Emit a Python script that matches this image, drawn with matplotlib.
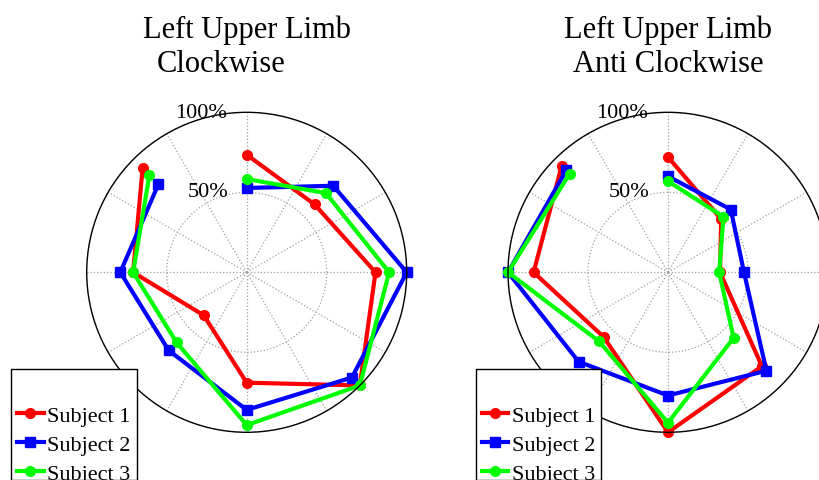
import numpy as np
import matplotlib
matplotlib.use("Agg")
from matplotlib import pyplot as plt
from matplotlib.patches import Rectangle

plt.rcParams['font.family'] = ['Liberation Serif', 'DejaVu Serif']

# directions (degrees), in the order they were measured
angles_deg = [90, 45, 0, -45, -90, -135, 180, 135]
subjects = ["Subject 1", "Subject 2", "Subject 3"]
colors = ["#ff0000", "#0000ff", "#00ff00"]
markers = ["o", "s", "o"]

# fraction of max (1.0 = 100%)
cw_s1 = [0.735, 0.60, 0.805, 1.00, 0.69, 0.38, 0.71, 0.92]
cw_s2 = [0.527, 0.765, 1.00, 0.93, 0.86, 0.69, 0.79, 0.78]
cw_s3 = [0.583, 0.70, 0.89, 1.00, 0.955, 0.62, 0.71, 0.86]

acw_s1 = [0.72, 0.47, 0.325, 0.83, 1.00, 0.57, 0.84, 0.94]
acw_s2 = [0.60, 0.555, 0.475, 0.87, 0.77, 0.79, 1.00, 0.90]
acw_s3 = [0.57, 0.49, 0.32, 0.58, 0.94, 0.61, 1.00, 0.87]

W, H = 819, 481
fig = plt.figure(figsize=(W / 100, H / 100), dpi=100)

theta = np.deg2rad(angles_deg)


def polar_panel(cx, data, line1, line2, line2_x, line2_ha):
    R = 160
    cy = 273.3
    ax = fig.add_axes([(cx - R) / W, (H - cy - R) / H, 2 * R / W, 2 * R / H],
                      projection='polar')
    for vals, c, m, lab in zip(data, colors, markers, subjects):
        ax.plot(theta, vals, color=c, lw=3, marker=m, ms=7 if m == 'o' else 6.5,
                label=lab, clip_on=False)
    ax.set_ylim(0, 1)
    ax.set_thetagrids(range(0, 360, 30), labels=[])
    ax.set_rgrids([0.5, 1.0], labels=[])
    ax.grid(True, color='#a0a0a0', linestyle=':', linewidth=0.9)
    ax.spines['polar'].set_color('black')
    ax.spines['polar'].set_linewidth(1.0)
    ax.text(np.deg2rad(97.3), 0.979, "100%", ha='right', va='baseline',
            fontsize=16)
    ax.text(np.deg2rad(103.7), 0.493, "50%", ha='right', va='baseline',
            fontsize=16)
    # titles
    fig.text(cx / W, 1 - 37.7 / H, line1, ha='center', va='baseline', fontsize=22)
    fig.text(line2_x / W, 1 - 71.7 / H, line2, ha=line2_ha, va='baseline',
             fontsize=22)
    return ax


ax1 = polar_panel(246.7, [cw_s1, cw_s2, cw_s3], "Left Upper Limb", "Clockwise",
                  156.7, 'left')
ax2 = polar_panel(668.0, [acw_s1, acw_s2, acw_s3], "Left Upper Limb",
                  "Anti Clockwise", 668.0, 'center')

# legend boxes
for ax, x0, x1 in [(ax1, 11, 136.7), (ax2, 475.7, 601)]:
    rect = Rectangle((x0 / W, 0), (x1 - x0) / W, 1 - 370 / H,
                     transform=fig.transFigure, facecolor='white',
                     edgecolor='black', lw=1.0, zorder=10)
    fig.add_artist(rect)
    handles, labels = ax.get_legend_handles_labels()
    leg = fig.legend(handles, labels, loc='upper left',
                     bbox_to_anchor=((x0 + 6) / W, 1 - 406 / H),
                     frameon=False, fontsize=16, handlelength=1.2,
                     handletextpad=0.15, labelspacing=0.38, borderpad=0,
                     borderaxespad=0)
    leg.set_zorder(11)

fig.savefig("out.png", dpi=100)
